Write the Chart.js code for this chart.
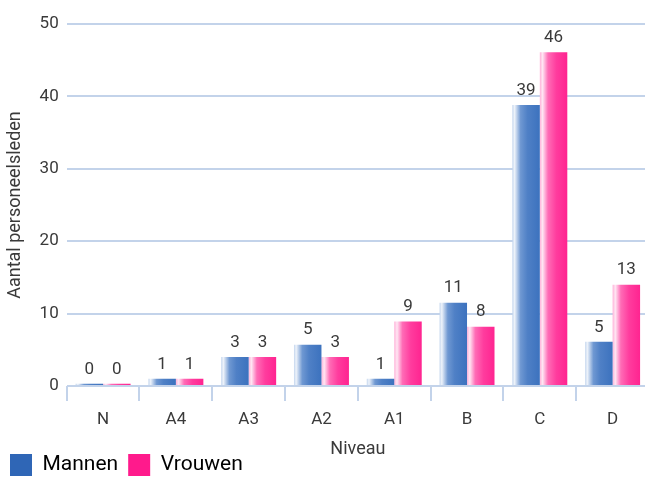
<!DOCTYPE html>
<html>
<head>
<meta charset="utf-8">
<script src="https://cdn.jsdelivr.net/npm/chart.js@4/dist/chart.umd.min.js"></script>
<style>
  html, body { margin: 0; padding: 0; background: #fff; overflow: hidden; }
  #wrap { position: relative; width: 660px; height: 477px; }
</style>
</head>
<body>
<div id="wrap"><canvas id="niveauChart" width="660" height="477"></canvas></div>
<script>
// categories and values
const niveaus = ['N', 'A4', 'A3', 'A2', 'A1', 'B', 'C', 'D'];
// bar heights as drawn
const mannen = [0.3, 1, 4, 5.7, 1, 11.5, 38.8, 6.1];
const vrouwen = [0.3, 1, 4, 4, 8.9, 8.2, 46.1, 14];
// numbers printed above the bars
const mannenLabels = [0, 1, 3, 5, 1, 11, 39, 5];
const vrouwenLabels = [0, 1, 3, 3, 9, 8, 46, 13];
const yTicks = [0, 10, 20, 30, 40, 50];

const blueStops = [[0, '#c4d6ee'], [0.08, '#eef3fa'], [0.3, '#6f98d2'], [0.55, '#4f80c6'], [1, '#3c72be']];
const pinkStops = [[0, '#ffb2d9'], [0.1, '#ffe6f3'], [0.3, '#ff6cb6'], [0.6, '#ff3c9e'], [1, '#ff2490']];

// paints each bar with a left-to-right gradient once positions are known
const barGradient = {
    id: 'barGradient',
    beforeDatasetsDraw(chart) {
        const ctx = chart.ctx;
        chart.data.datasets.forEach((ds, i) => {
            const stops = i == 0 ? blueStops : pinkStops;
            chart.getDatasetMeta(i).data.forEach(bar => {
                const g = ctx.createLinearGradient(bar.x - bar.width / 2, 0, bar.x + bar.width / 2, 0);
                stops.forEach(s => g.addColorStop(s[0], s[1]));
                bar.options.backgroundColor = g;
            });
        });
    }
};

const valueLabels = {
    id: 'valueLabels',
    afterDatasetsDraw(chart) {
        const ctx = chart.ctx;
        ctx.save();
        ctx.font = '17px Roboto';
        ctx.fillStyle = '#3a3a3a';
        ctx.textAlign = 'center';
        ctx.textBaseline = 'bottom';
        chart.data.datasets.forEach((ds, i) => {
            const txt = i == 0 ? mannenLabels : vrouwenLabels;
            chart.getDatasetMeta(i).data.forEach((bar, j) => {
                ctx.fillText(txt[j], bar.x, bar.y - 6);
            });
        });
        ctx.restore();
    }
};

const gridColor = '#c3d3ea';

new Chart('niveauChart', {
    type: 'bar',
    data: {
        labels: niveaus,
        datasets: [
            { label: 'Mannen', data: mannen, backgroundColor: () => '#2f66b6', borderWidth: 0 },
            { label: 'Vrouwen', data: vrouwen, backgroundColor: () => '#ff1a8c', borderWidth: 0 }
        ]
    },
    options: {
        responsive: false,
        animation: false,
        devicePixelRatio: 1,
        categoryPercentage: 0.755,
        barPercentage: 1.0,
        layout: { padding: { left: 0, right: 11, top: 24, bottom: -9 } },
        plugins: {
            tooltip: { enabled: false },
            legend: {
                position: 'bottom',
                align: 'start',
                labels: {
                    boxWidth: 22,
                    boxHeight: 22,
                    padding: 10,
                    color: '#3a3a3a',
                    font: { family: 'Roboto', size: 21 },
                    generateLabels: chart => chart.data.datasets.map((ds, i) => ({
                        text: ds.label,
                        fillStyle: i == 0 ? '#2f66b6' : '#ff1a8c',
                        strokeStyle: i == 0 ? '#2f66b6' : '#ff1a8c',
                        lineWidth: 0,
                        datasetIndex: i
                    }))
                }
            }
        },
        scales: {
            x: {
                offset: true,
                grid: {
                    offset: true,
                    drawOnChartArea: false,
                    drawTicks: true,
                    tickLength: 15,
                    color: gridColor,
                    lineWidth: 2
                },
                border: { display: false },
                ticks: { color: '#3a3a3a', font: { family: 'Roboto', size: 17 }, padding: 9 },
                title: {
                    display: true,
                    text: 'Niveau',
                    color: '#3a3a3a',
                    font: { family: 'Roboto', size: 18 },
                    padding: { top: -1, bottom: -16 }
                }
            },
            y: {
                min: 0,
                max: 50,
                afterBuildTicks: axis => { axis.ticks = yTicks.map(v => ({ value: v })); },
                grid: { color: gridColor, lineWidth: 2, drawTicks: false },
                border: { display: false },
                ticks: { color: '#3a3a3a', font: { family: 'Roboto', size: 17 }, padding: 8 },
                title: {
                    display: true,
                    text: 'Aantal personeelsleden',
                    color: '#3a3a3a',
                    font: { family: 'Roboto', size: 18 },
                    padding: { top: 5, bottom: 5 }
                }
            }
        }
    },
    plugins: [barGradient, valueLabels]
});
</script>
</body>
</html>
